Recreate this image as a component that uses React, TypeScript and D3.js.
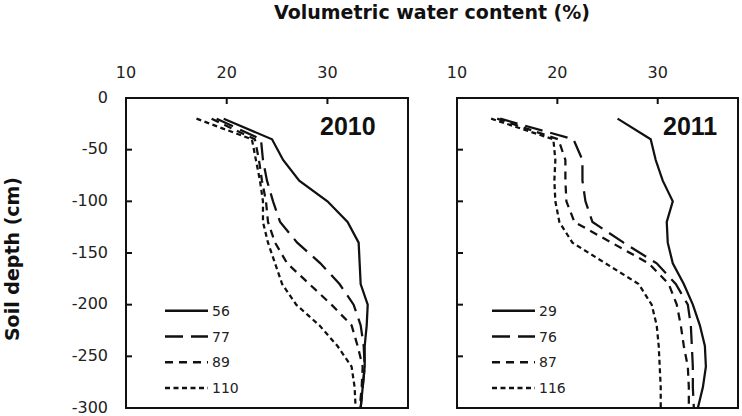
import React from 'react';
import * as d3 from 'd3';

// ---- data ----
const depths = [-20, -40, -60, -80, -100, -120, -140, -160, -180, -200, -220, -240, -260, -280, -300];

const labels2010 = ['56', '77', '89', '110'];
const s2010_56 = [19.7, 24.5, 25.6, 27.2, 30.0, 32.0, 33.1, 33.2, 33.3, 34.0, 33.9, 33.7, 33.7, 33.5, 33.3];
const s2010_77 = [19.0, 23.4, 23.6, 24.0, 24.6, 25.3, 27.0, 29.3, 31.2, 32.6, 33.3, 33.6, 33.7, 33.5, 33.3];
const s2010_89 = [18.5, 22.8, 23.2, 23.5, 23.9, 24.1, 24.8, 26.0, 28.2, 30.4, 32.4, 33.0, 33.5, 33.4, 33.2];
const s2010_110 = [17.0, 22.5, 22.9, 23.3, 23.6, 23.6, 24.1, 24.8, 25.5, 26.9, 29.2, 31.0, 32.4, 32.7, 32.8];

const labels2011 = ['29', '76', '87', '116'];
const s2011_29 = [26.0, 29.3, 29.8, 30.5, 31.5, 30.9, 31.0, 31.5, 32.6, 33.5, 34.2, 34.7, 34.8, 34.5, 34.0];
const s2011_76 = [14.3, 21.6, 22.5, 22.5, 22.8, 23.5, 26.6, 29.9, 31.8, 33.0, 33.3, 33.4, 33.5, 33.5, 33.6];
const s2011_87 = [14.0, 20.1, 20.8, 20.8, 20.9, 21.7, 25.4, 29.1, 31.1, 31.9, 32.3, 32.6, 33.0, 33.1, 33.1];
const s2011_116 = [13.4, 19.6, 19.8, 19.7, 19.8, 20.2, 21.5, 24.8, 28.1, 29.4, 29.9, 30.1, 30.2, 30.3, 30.3];

const xTicks = [10, 20, 30];
const yTicks = [0, -50, -100, -150, -200, -250, -300];
const xDomain = [10, 38];
const yDomain = [-300, 0];

const titleX = 'Volumetric water content (%)';
const titleY = 'Soil depth (cm)';

// ---- styles / layout ----
const W = 742;
const H = 416;
const TOP = 98;
const BOTTOM = 408;
const dashes = ['', '18,8', '8,6', '5,3.5'];
const INK = '#111';

const panels = [
  { year: '2010', x0: 126, x1: 408, labels: labels2010, series: [s2010_56, s2010_77, s2010_89, s2010_110], yearX: 320, legendX: 39, yLabels: true },
  { year: '2011', x0: 457, x1: 738, labels: labels2011, series: [s2011_29, s2011_76, s2011_87, s2011_116], yearX: 663, legendX: 35, yLabels: false },
];

const y = d3.scaleLinear().domain(yDomain).range([BOTTOM, TOP]);

function Panel({ p }: { p: any }) {
  const x = d3.scaleLinear().domain(xDomain).range([p.x0, p.x1]);
  const line = d3
    .line<[number, number]>()
    .x((d) => x(d[0]))
    .y((d) => y(d[1]))
    .curve(d3.curveLinear);
  return (
    <g>
      {p.series.map((s: number[], i: number) => (
        <path
          key={i}
          d={line(s.map((v, j) => [v, depths[j]] as [number, number])) || ''}
          fill="none"
          stroke={INK}
          strokeWidth={2.25}
          strokeDasharray={dashes[i] || undefined}
        />
      ))}
      <rect x={p.x0} y={TOP} width={p.x1 - p.x0} height={BOTTOM - TOP} fill="none" stroke={INK} strokeWidth={2} />
      {xTicks.map((t) => (
        <g key={t}>
          {t !== xDomain[0] && <line x1={x(t)} x2={x(t)} y1={TOP} y2={TOP + 6} stroke={INK} strokeWidth={2} />}
          <text x={x(t)} y={78} textAnchor="middle" fontFamily="DejaVu Sans" fontSize={16} fill="#222">
            {t}
          </text>
        </g>
      ))}
      {yTicks.map((t) => (
        <g key={t}>
          {t !== 0 && t !== -300 && <line x1={p.x0} x2={p.x0 + 6} y1={y(t)} y2={y(t)} stroke={INK} strokeWidth={2} />}
          {p.yLabels && (
            <text x={108} y={y(t)} dy="0.3em" textAnchor="end" fontFamily="DejaVu Sans" fontSize={16} fill="#222">
              {t}
            </text>
          )}
        </g>
      ))}
      <text x={p.yearX} y={135} fontFamily="Liberation Sans" fontWeight="bold" fontSize={25} fill={INK}>
        {p.year}
      </text>
      {p.labels.map((lab: string, i: number) => {
        const ly = TOP + 212.7 + i * 25.8;
        const lx0 = p.x0 + p.legendX;
        const lx1 = lx0 + 43;
        return (
          <g key={lab}>
            <line x1={lx0} x2={lx1} y1={ly} y2={ly} stroke={INK} strokeWidth={2.5} strokeDasharray={dashes[i] || undefined} />
            <text x={lx1 + 4} y={ly} dy="0.36em" fontFamily="DejaVu Sans" fontSize={14} fill="#222">
              {lab}
            </text>
          </g>
        );
      })}
    </g>
  );
}

export default function App() {
  return (
    <svg
      width={W}
      height={H}
      viewBox={`0 0 ${W} ${H}`}
      style={{ position: 'absolute', left: 0, top: 0, background: '#fff' }}
    >
      <rect x={0} y={0} width={W} height={H} fill="#fff" />
      <text x={432} y={18.5} textAnchor="middle" fontFamily="DejaVu Sans" fontWeight="bold" fontSize={19} fill={INK}>
        {titleX}
      </text>
      <text
        transform={`translate(19, ${(TOP + BOTTOM) / 2 + 6}) rotate(-90)`}
        textAnchor="middle"
        fontFamily="DejaVu Sans"
        fontWeight="bold"
        fontSize={19}
        fill={INK}
      >
        {titleY}
      </text>
      {panels.map((p) => (
        <Panel key={p.year} p={p} />
      ))}
    </svg>
  );
}
